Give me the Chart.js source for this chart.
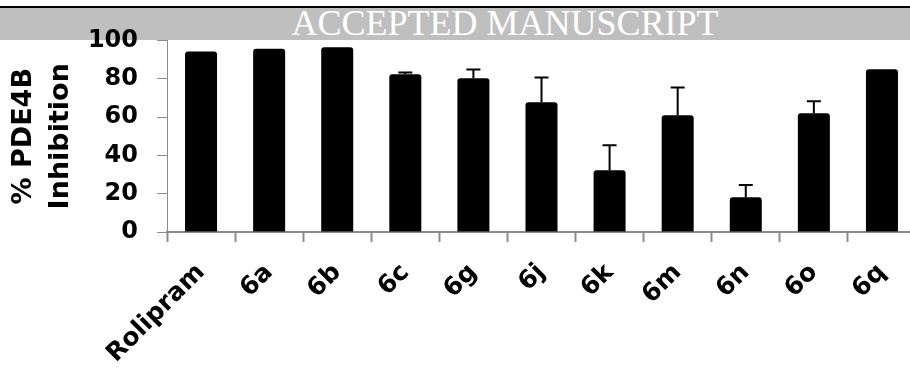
<!DOCTYPE html>
<html><head><meta charset="utf-8">
<script src="https://cdn.jsdelivr.net/npm/chart.js@4"></script>
<style>
html,body{margin:0;padding:0;width:910px;height:369px;overflow:hidden;background:#fff;}
#topline{position:absolute;left:0;top:6px;width:910px;height:2px;background:#000;}
#band{position:absolute;left:0;top:8px;width:910px;height:32px;background:#bfbfbf;}
#bandtext{position:absolute;left:505px;top:4.8px;transform:translateX(-50%);font-family:"Liberation Serif","Times New Roman",serif;font-size:36px;line-height:36px;color:#fff;white-space:nowrap;}
#wrap{position:absolute;left:0;top:0;width:920px;height:369px;z-index:2;}
</style></head>
<body>
<div id="topline"></div>
<div id="band"></div>
<div id="bandtext">ACCEPTED MANUSCRIPT</div>
<div id="wrap"><canvas id="c" width="920" height="369"></canvas></div>
<script>
const categories = ['Rolipram','6a','6b','6c','6g','6j','6k','6m','6n','6o','6q'];
const inhibition = [94.2, 95.7, 96.5, 82.4, 80.3, 67.8, 32.3, 61.0, 18.1, 62.0, 85.0];
const errors     = [0, 0, 0, 0.9, 4.5, 12.9, 13.0, 14.4, 6.5, 6.3, 0];
const yTicks = [0, 20, 40, 60, 80, 100];
const yTitle = ['% PDE4B', 'Inhibition'];

const errorBars = {
  id: 'errorBars',
  afterDatasetsDraw(chart) {
    const ctx = chart.ctx, meta = chart.getDatasetMeta(0), y = chart.scales.y;
    ctx.save();
    ctx.strokeStyle = '#000';
    ctx.lineWidth = 2;
    meta.data.forEach((bar, i) => {
      const e = errors[i];
      if (!e) return;
      const yBase = y.getPixelForValue(inhibition[i]);
      const yTop = y.getPixelForValue(inhibition[i] + e);
      ctx.beginPath();
      ctx.moveTo(bar.x, yBase); ctx.lineTo(bar.x, yTop);
      ctx.moveTo(bar.x - 7, yTop); ctx.lineTo(bar.x + 7, yTop);
      ctx.stroke();
    });
    ctx.restore();
  }
};

const axisGray = '#8c8c8c';
new Chart(document.getElementById('c'), {
  type: 'bar',
  data: {
    labels: categories,
    datasets: [{
      data: inhibition,
      backgroundColor: '#000',
      borderWidth: 0,
      borderRadius: {topLeft: 3, topRight: 3, bottomLeft: 0, bottomRight: 0},
      borderSkipped: 'bottom',
      barPercentage: 0.47,
      categoryPercentage: 1
    }]
  },
  options: {
    responsive: false,
    animation: false,
    devicePixelRatio: 1,
    layout: {padding: {top: 40.5, right: 4, left: 0, bottom: 0}},
    plugins: {legend: {display: false}, tooltip: {enabled: false}},
    scales: {
      x: {
        ticks: {color: '#000', font: {family: 'DejaVu Sans', weight: 'bold', size: 25}, minRotation: 45, maxRotation: 45, padding: 16, autoSkip: false},
        grid: {drawOnChartArea: false, tickLength: 10, color: axisGray, tickWidth: 2, offset: true},
        border: {color: axisGray, width: 2},
        afterFit(s) { s.height = 137; }
      },
      y: {
        min: 0, max: 100,
        afterBuildTicks(s) { s.ticks = yTicks.map(v => ({value: v})); },
        ticks: {color: '#000', padding: 19, font: {family: 'DejaVu Sans', weight: 'bold', size: 24}},
        grid: {drawOnChartArea: false, tickLength: 10, color: axisGray, tickWidth: 1},
        border: {color: axisGray, width: 1},
        title: {display: true, text: yTitle, color: '#000', font: {family: 'DejaVu Sans', weight: 'bold', size: 27, lineHeight: 1.37}, padding: {top: 5, bottom: 0}},
        afterFit(s) { s.width = 167; }
      }
    }
  },
  plugins: [errorBars]
});
</script>
</body></html>
